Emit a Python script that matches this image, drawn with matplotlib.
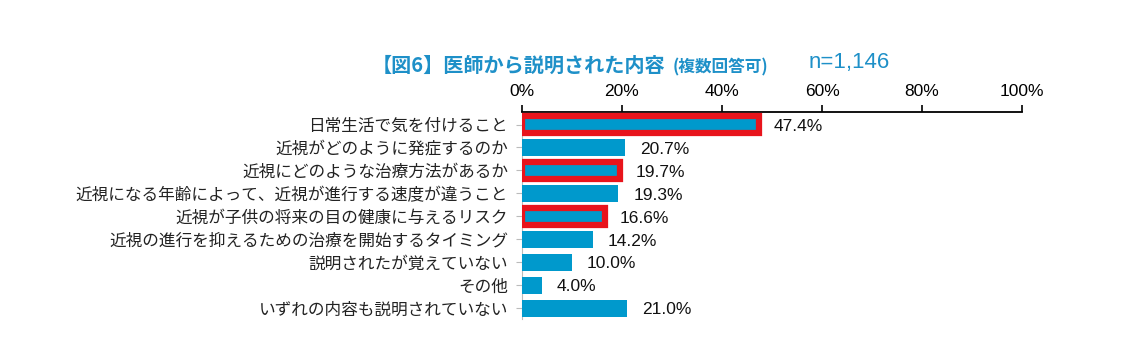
import numpy as np
import matplotlib.pyplot as plt

plt.rcParams['font.family'] = ['Noto Sans CJK JP', 'DejaVu Sans']

# データ
CATEGORIES = [
    "日常生活で気を付けること",
    "近視がどのように発症するのか",
    "近視にどのような治療方法があるか",
    "近視になる年齢によって、近視が進行する速度が違うこと",
    "近視が子供の将来の目の健康に与えるリスク",
    "近視の進行を抑えるための治療を開始するタイミング",
    "説明されたが覚えていない",
    "その他",
    "いずれの内容も説明されていない",
]
VALUES = [47.4, 20.7, 19.7, 19.3, 16.6, 14.2, 10.0, 4.0, 21.0]
HIGHLIGHT = [True, False, True, False, True, False, False, False, False]
TICKS = [0, 20, 40, 60, 80, 100]

BLUE = '#0099CC'
TITLE_BLUE = '#1E90C8'
LATIN = ['Liberation Sans', 'DejaVu Sans']

fig = plt.figure(figsize=(11.37, 3.61), dpi=100)
ax = fig.add_axes([0.459, 0.115, 0.440, 0.575])

y = np.arange(len(CATEGORIES))
ax.barh(y, VALUES, height=0.74, color=BLUE, zorder=3)
for i, (v, h) in enumerate(zip(VALUES, HIGHLIGHT)):
    if h:
        ax.barh(i, v, height=0.74, color=BLUE, edgecolor='#E8141C',
                linewidth=4.5, zorder=4)
    ax.text(v + 3.0, i + 0.08, f"{v:.1f}%", va='center', ha='left',
            fontsize=12.5, family=LATIN, color='#111111')

ax.set_xlim(0, 100)
ax.set_ylim(len(CATEGORIES) - 0.5, -0.55)
ax.set_yticks(y)
ax.set_yticklabels(CATEGORIES, fontsize=12, color='#222222')
ax.xaxis.tick_top()
ax.set_xticks(TICKS)
ax.set_xticklabels([f"{t}%" for t in TICKS], fontsize=12.5, family=LATIN)
ax.tick_params(axis='x', direction='out', length=5, width=1.2, pad=4, colors='black')
ax.tick_params(axis='y', length=4, color='#BBBBBB', pad=6)

for s in ['right', 'bottom']:
    ax.spines[s].set_visible(False)
ax.spines['top'].set_linewidth(1.3)
ax.spines['left'].set_color('#BBBBBB')

fig.text(0.327, 0.82, "【図6】医師から説明された内容", fontsize=14.5,
         color=TITLE_BLUE, fontweight='bold', va='center')
fig.text(0.592, 0.812, "(複数回答可)", fontsize=12, color=TITLE_BLUE,
         fontweight='bold', va='center')
fig.text(0.711, 0.826, "n=1,146", fontsize=16, color=TITLE_BLUE, va='center',
         family=LATIN)

fig.savefig('out.png', dpi=100)
